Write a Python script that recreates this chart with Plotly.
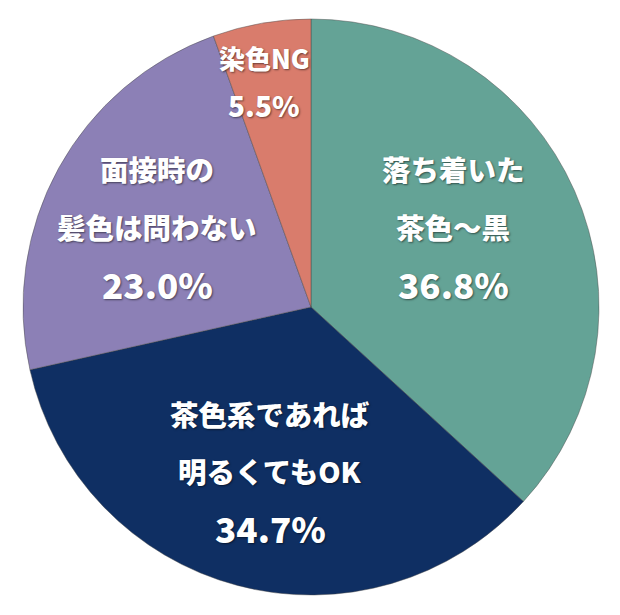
import plotly.graph_objects as go

# ---- data ----
categories = ["落ち着いた茶色〜黒", "茶色系であれば明るくてもOK", "面接時の髪色は問わない", "染色NG"]
label_lines = [["落ち着いた", "茶色〜黒"], ["茶色系であれば", "明るくてもOK"], ["面接時の", "髪色は問わない"], ["染色NG"]]
values = [36.8, 34.7, 23.0, 5.5]
colors = ["#64A396", "#0F2F63", "#8C80B6", "#D97C6C"]

W, H = 620, 615
OFF = 8  # page body margin offset
cx, cy, r = 311 - OFF, 307 - OFF, 288

fig = go.Figure(go.Pie(
    labels=categories,
    values=values,
    sort=False,
    direction="clockwise",
    rotation=0,
    textinfo="none",
    hoverinfo="label+percent",
    marker=dict(colors=colors, line=dict(color="rgba(70,70,70,0.45)", width=1)),
    domain=dict(x=[(cx - r) / W, (cx + r) / W], y=[1 - (cy + r) / H, 1 - (cy - r) / H]),
    showlegend=False,
))

# label layout: (center x px, first line y px, line gap px, font size text, font size pct)
label_pos = [
    (453, 169, 57, 28.5, 35),
    (270, 413, 57, 28.5, 35),
    (157, 169, 57, 28.5, 35),
    (264, 57, 48, 26, 28),
]

shadow = "1px 1px 2px rgba(0,0,0,0.5)"
for lines, v, (x, y0, gap, fs, fp) in zip(label_lines, values, label_pos):
    items = [(t, fs) for t in lines] + [(f"{v:.1f}%", fp)]
    for i, (t, f) in enumerate(items):
        fig.add_annotation(
            x=(x - OFF) / W, y=1 - (y0 - OFF + i * gap) / H, xref="paper", yref="paper",
            text=t, showarrow=False, xanchor="center", yanchor="middle",
            font=dict(family="Noto Sans CJK JP", size=f, color="white", weight=900, shadow=shadow),
        )

fig.update_layout(
    width=W, height=H,
    margin=dict(l=0, r=0, t=0, b=0),
    paper_bgcolor="white", plot_bgcolor="white",
)

fig.write_html("out.html")
